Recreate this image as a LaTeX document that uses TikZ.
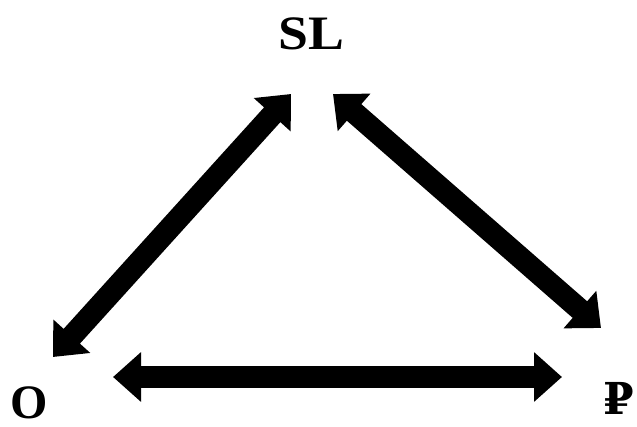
\documentclass[tikz,border=0pt]{standalone}
\usepackage{fontspec}
\setmainfont{Liberation Serif}
\newfontfamily\rubfont{DejaVu Serif}
\usetikzlibrary{arrows.meta}

\tikzset{
	vertex/.style = {font=\fontsize{48}{48}\selectfont\bfseries, inner sep=0pt, anchor=base},
	link/.style = {line width=22pt, {Triangle[width=48pt,length=28pt]}-{Triangle[width=48pt,length=28pt]}}
}

\begin{document}
\begin{tikzpicture}[x=1pt, y=-1pt]
					\useasboundingbox (0,0) rectangle (637,427);

					\node [vertex, xscale=1.12] (sl) at (311,50) {SL};
					\node [vertex] (o) at (29,418) {O};
					\node [vertex, font=\fontsize{44}{44}\selectfont\rubfont\bfseries] (p) at (619,414) {₽};

					\coordinate (slL) at (291,94);
					\coordinate (slR) at (333,94);
					\coordinate (oT) at (53,357);
					\coordinate (oR) at (113,377);
					\coordinate (pT) at (601,328);
					\coordinate (pL) at (562,377);

					\begin{scope}[link]
						\draw (oT) -- (slL);
						\draw (slR) -- (pT);
						\draw (oR) -- (pL);
					\end{scope}
				\end{tikzpicture}
\end{document}
